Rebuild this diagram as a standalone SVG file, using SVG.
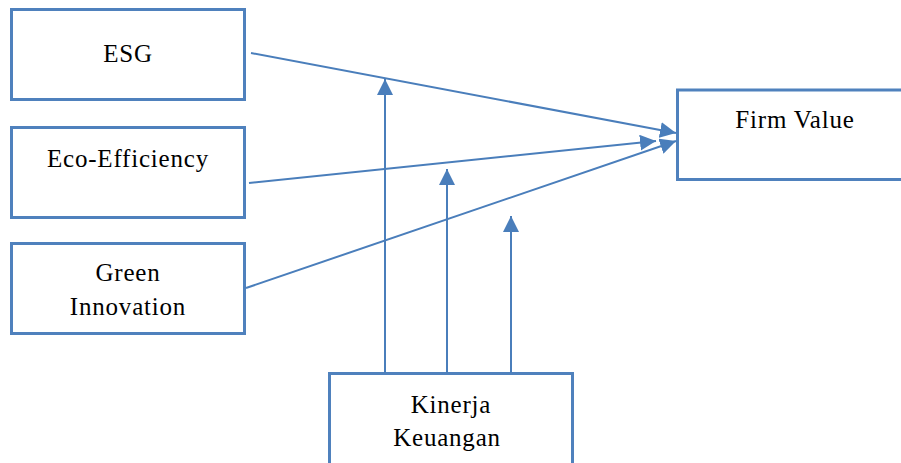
<svg xmlns="http://www.w3.org/2000/svg" width="901" height="463" viewBox="0 0 901 463">
<defs>
<style>
.box{fill:#fff;stroke:#4f81bd;stroke-width:3}
.lbl{font-family:"Liberation Serif",serif;font-size:25px;letter-spacing:0.8px;fill:#000;text-anchor:middle}
.con{stroke:#4a7ebb;stroke-width:2;fill:none}
</style>
<marker id="ah" viewBox="0 0 10 10" refX="10" refY="5" markerWidth="16" markerHeight="16" markerUnits="userSpaceOnUse" orient="auto">
<path d="M0,0 L10,5 L0,10 z" fill="#4a7ebb"/>
</marker>
</defs>
<g id="esg"><rect class="box" x="11.5" y="9.5" width="233" height="90"/><text class="lbl" x="128" y="62">ESG</text></g>
<g id="eco"><rect class="box" x="11.5" y="127.5" width="233" height="90"/><text class="lbl" x="128" y="167">Eco-Efficiency</text></g>
<g id="green"><rect class="box" x="11.5" y="243.5" width="233" height="90"/><text class="lbl" x="128" y="281">Green</text><text class="lbl" x="128" y="315">Innovation</text></g>
<g id="firm"><rect class="box" x="677.5" y="90" width="240" height="89.5"/><text class="lbl" x="795" y="128">Firm Value</text></g>
<g id="kinerja"><rect class="box" x="329.5" y="373.5" width="243" height="110"/><text class="lbl" x="451" y="413">Kinerja</text><text class="lbl" x="447" y="446">Keuangan</text></g>
<g id="connectors">
<line class="con" x1="251" y1="53" x2="676" y2="133" marker-end="url(#ah)"/>
<line class="con" x1="249" y1="183" x2="656" y2="141" marker-end="url(#ah)"/>
<line class="con" x1="246" y1="288" x2="676" y2="141" marker-end="url(#ah)"/>
<line class="con" x1="385" y1="373" x2="385" y2="79" marker-end="url(#ah)"/>
<line class="con" x1="447" y1="373" x2="447" y2="169" marker-end="url(#ah)"/>
<line class="con" x1="511" y1="373" x2="511" y2="216" marker-end="url(#ah)"/>
</g>
</svg>
